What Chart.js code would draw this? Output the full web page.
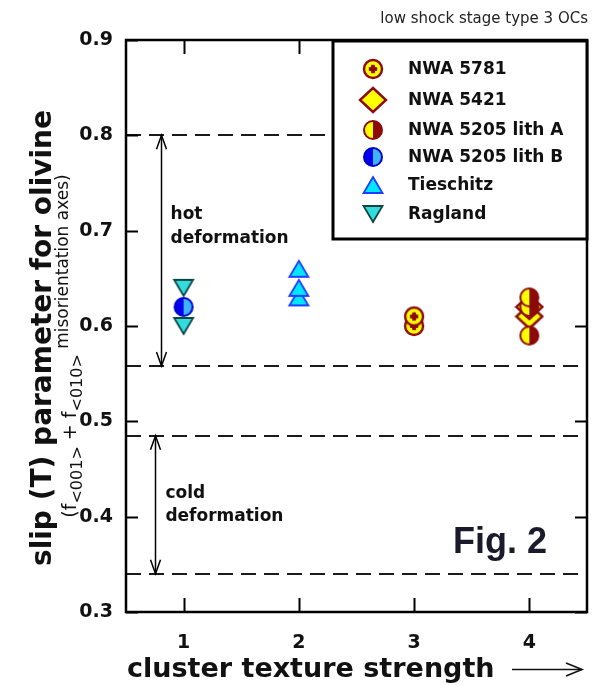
<!DOCTYPE html>
<html>
<head>
<meta charset="utf-8">
<script src="https://cdn.jsdelivr.net/npm/chart.js@4.4.1/dist/chart.umd.min.js"></script>
<style>
  html, body { margin: 0; padding: 0; background: #fff; }
  #wrap { width: 592px; height: 685px; }
</style>
</head>
<body>
<div id="wrap"><canvas id="chart"></canvas></div>
<script>
// ---- data ----
var nwa5781X = [3, 3];
var nwa5781Y = [0.60, 0.61];
var nwa5421X = [4, 4];
var nwa5421Y = [0.61, 0.62];
var lithAX = [4, 4, 4];
var lithAY = [0.59, 0.62, 0.63];
var lithBX = [1];
var lithBY = [0.62];
var tieschitzX = [2, 2, 2];
var tieschitzY = [0.63, 0.64, 0.66];
var raglandX = [1, 1];
var raglandY = [0.64, 0.60];

var seriesLabels = ["NWA 5781", "NWA 5421", "NWA 5205 lith A", "NWA 5205 lith B", "Tieschitz", "Ragland"];
var xTicks = [1, 2, 3, 4];
var yTicks = [0.3, 0.4, 0.5, 0.6, 0.7, 0.8, 0.9];

// deformation bands (y) and where the double arrows sit (x)
var hotRange = [0.8, 0.558];
var coldRange = [0.485, 0.34];
var hotArrowX = 0.8;
var coldArrowX = 0.755;

var DARK_RED = "#8c0a0a";
var YELLOW = "#ffff00";
var FONT = "DejaVu Sans";

// ---- marker images ----
function markerCanvas(w, h, draw) {
  var c = document.createElement("canvas");
  c.width = w;
  c.height = h;
  var g = c.getContext("2d");
  g.translate(w / 2, h / 2);
  draw(g);
  return c;
}

function halfCircle(g, r, left, right, edge) {
  g.beginPath();
  g.arc(0, 0, r, Math.PI / 2, Math.PI * 1.5);
  g.closePath();
  g.fillStyle = left;
  g.fill();
  g.beginPath();
  g.arc(0, 0, r, -Math.PI / 2, Math.PI / 2);
  g.closePath();
  g.fillStyle = right;
  g.fill();
  g.beginPath();
  g.arc(0, 0, r, 0, Math.PI * 2);
  g.lineWidth = 2;
  g.strokeStyle = edge;
  g.stroke();
}

var mk5781 = markerCanvas(24, 24, function (g) {
  g.beginPath();
  g.arc(0, 0, 9, 0, Math.PI * 2);
  g.fillStyle = YELLOW;
  g.fill();
  g.lineWidth = 2.4;
  g.strokeStyle = DARK_RED;
  g.stroke();
  g.fillStyle = DARK_RED;
  g.fillRect(-1.8, -4.2, 3.6, 8.4);
  g.fillRect(-4.2, -1.8, 8.4, 3.6);
  g.beginPath();
  g.arc(0, 0, 3, 0, Math.PI * 2);
  g.fill();
});

var mk5421 = markerCanvas(30, 30, function (g) {
  g.beginPath();
  g.moveTo(0, -12);
  g.lineTo(13, 0);
  g.lineTo(0, 12);
  g.lineTo(-13, 0);
  g.closePath();
  g.fillStyle = YELLOW;
  g.fill();
  g.lineWidth = 2.4;
  g.strokeStyle = DARK_RED;
  g.stroke();
});

var mkLithA = markerCanvas(24, 24, function (g) {
  halfCircle(g, 9, YELLOW, DARK_RED, DARK_RED);
});

var mkLithB = markerCanvas(24, 24, function (g) {
  halfCircle(g, 9, "#0000ee", "#3cb4ff", "#0000cc");
});

var mkTieschitz = markerCanvas(24, 22, function (g) {
  g.beginPath();
  g.moveTo(0, -8);
  g.lineTo(9.5, 8);
  g.lineTo(-9.5, 8);
  g.closePath();
  g.fillStyle = "#00e6ff";
  g.fill();
  g.lineWidth = 1.8;
  g.strokeStyle = "#1f3cff";
  g.stroke();
});

var mkRagland = markerCanvas(24, 22, function (g) {
  g.beginPath();
  g.moveTo(0, 8);
  g.lineTo(9.5, -8);
  g.lineTo(-9.5, -8);
  g.closePath();
  g.fillStyle = "#33dcdc";
  g.fill();
  g.lineWidth = 1.8;
  g.strokeStyle = "#0d4545";
  g.stroke();
});

function pts(xs, ys) {
  return xs.map(function (x, i) {
    return { x: x, y: ys[i] };
  });
}

var markers = [mk5781, mk5421, mkLithA, mkLithB, mkTieschitz, mkRagland];
var pointSets = [
  pts(nwa5781X, nwa5781Y),
  pts(nwa5421X, nwa5421Y),
  pts(lithAX, lithAY),
  pts(lithBX, lithBY),
  pts(tieschitzX, tieschitzY),
  pts(raglandX, raglandY),
];
// lower order is drawn on top: circles of lith A sit over the diamonds
var drawOrder = [3, 6, 2, 4, 5, 1];

var datasets = seriesLabels.map(function (label, i) {
  return {
    label: label,
    data: pointSets[i],
    pointStyle: markers[i],
    showLine: false,
    order: drawOrder[i],
  };
});

// ---- drawing helpers ----
function arrowHead(ctx, x, y, dir, len, half) {
  ctx.beginPath();
  ctx.moveTo(x - half, y - dir * len);
  ctx.lineTo(x, y);
  ctx.lineTo(x + half, y - dir * len);
  ctx.stroke();
}

var decorations = {
  id: "decorations",
  beforeDatasetsDraw: function (chart) {
    var ctx = chart.ctx;
    var xs = chart.scales.x;
    var ys = chart.scales.y;
    var a = chart.chartArea;
    ctx.save();

    // dashed band limits
    ctx.strokeStyle = "#1a1a1a";
    ctx.lineWidth = 1.8;
    ctx.setLineDash([15, 8]);
    hotRange.concat(coldRange).forEach(function (v) {
      var y = Math.round(ys.getPixelForValue(v));
      ctx.beginPath();
      ctx.moveTo(a.left, y);
      ctx.lineTo(a.right, y);
      ctx.stroke();
    });
    ctx.setLineDash([]);

    // double arrows
    ctx.strokeStyle = "#000";
    ctx.lineWidth = 1.5;
    [[hotArrowX, hotRange], [coldArrowX, coldRange]].forEach(function (arr) {
      var x = Math.round(xs.getPixelForValue(arr[0])) + 0.5;
      var y1 = ys.getPixelForValue(arr[1][0]);
      var y2 = ys.getPixelForValue(arr[1][1]);
      ctx.beginPath();
      ctx.moveTo(x, y1);
      ctx.lineTo(x, y2);
      ctx.stroke();
      arrowHead(ctx, x, y1, -1, 14, 5);
      arrowHead(ctx, x, y2, 1, 14, 5);
    });

    // band labels
    ctx.fillStyle = "#111";
    ctx.font = "bold 17px '" + FONT + "'";
    ctx.textBaseline = "alphabetic";
    ctx.textAlign = "left";
    var hx = xs.getPixelForValue(hotArrowX) + 10;
    var hy = ys.getPixelForValue(0.7);
    ctx.fillText("hot", hx, hy - 12);
    ctx.fillText("deformation", hx, hy + 12);
    var cx = xs.getPixelForValue(coldArrowX) + 10;
    var cy = ys.getPixelForValue(0.407);
    ctx.fillText("cold", cx, cy - 12);
    ctx.fillText("deformation", cx, cy + 11);

    ctx.restore();
  },
  afterDraw: function (chart) {
    var ctx = chart.ctx;
    var xs = chart.scales.x;
    var ys = chart.scales.y;
    var a = chart.chartArea;
    ctx.save();

    // frame
    ctx.strokeStyle = "#000";
    ctx.lineWidth = 2.5;
    ctx.strokeRect(a.left, a.top, a.right - a.left, a.bottom - a.top);

    // inward ticks
    ctx.lineWidth = 2;
    xTicks.forEach(function (v) {
      var x = Math.round(xs.getPixelForValue(v)) + 0.5;
      ctx.beginPath();
      ctx.moveTo(x, a.bottom);
      ctx.lineTo(x, a.bottom - 14);
      ctx.moveTo(x, a.top);
      ctx.lineTo(x, a.top + 14);
      ctx.stroke();
    });
    yTicks.forEach(function (v) {
      var y = Math.round(ys.getPixelForValue(v)) + 0.5;
      ctx.beginPath();
      ctx.moveTo(a.left, y);
      ctx.lineTo(a.left + 12, y);
      ctx.moveTo(a.right, y);
      ctx.lineTo(a.right - 12, y);
      ctx.stroke();
    });

    // legend box
    var lx = 333, ly = a.top + 1, lw = a.right - 333, lh = 198;
    ctx.fillStyle = "#fff";
    ctx.fillRect(lx, ly, lw, lh);
    ctx.lineWidth = 3;
    ctx.strokeRect(lx, ly, lw, lh);
    var rows = [69, 100, 130, 157, 185, 214];
    ctx.font = "bold 17px '" + FONT + "'";
    ctx.fillStyle = "#111";
    ctx.textBaseline = "middle";
    ctx.textAlign = "left";
    chart.data.datasets.forEach(function (ds, i) {
      var img = ds.pointStyle;
      ctx.drawImage(img, 373 - img.width / 2, rows[i] - img.height / 2);
      ctx.fillText(ds.label, 408, rows[i] + 1);
    });

    // Fig. 2
    ctx.font = "bold 36px 'Liberation Sans'";
    ctx.textBaseline = "alphabetic";
    ctx.fillStyle = "#1a1a2a";
    ctx.fillText("Fig. 2", 453, 553);

    // top note
    ctx.font = "15px '" + FONT + "'";
    ctx.fillStyle = "#222";
    ctx.textAlign = "right";
    ctx.fillText("low shock stage type 3 OCs", 588, 23);

    // x title with arrow
    ctx.font = "bold 27px '" + FONT + "'";
    ctx.fillStyle = "#111";
    ctx.textAlign = "left";
    ctx.fillText("cluster texture strength", 127, 677);
    ctx.strokeStyle = "#111";
    ctx.lineWidth = 1.6;
    ctx.beginPath();
    ctx.moveTo(512, 669.5);
    ctx.lineTo(582, 669.5);
    ctx.stroke();
    ctx.beginPath();
    ctx.moveTo(566, 663);
    ctx.lineTo(582, 669.5);
    ctx.lineTo(566, 676);
    ctx.stroke();

    // y title
    ctx.save();
    ctx.translate(51, 338);
    ctx.rotate(-Math.PI / 2);
    ctx.font = "bold 28px '" + FONT + "'";
    ctx.textAlign = "center";
    ctx.fillText("slip (T) parameter for olivine", 0, 0);
    ctx.restore();

    // y subtitle with sub/superscripts
    var parts = [
      ["(f", 19, 0],
      ["<001>", 16, 6],
      [" + f", 19, 0],
      ["<010>", 16, 6],
      [" misorientation axes)", 17, -8],
    ];
    ctx.save();
    ctx.translate(76, 346);
    ctx.rotate(-Math.PI / 2);
    ctx.textAlign = "left";
    var total = 0;
    parts.forEach(function (p) {
      ctx.font = p[1] + "px '" + FONT + "'";
      total += ctx.measureText(p[0]).width;
    });
    var px = -total / 2;
    parts.forEach(function (p) {
      ctx.font = p[1] + "px '" + FONT + "'";
      ctx.fillText(p[0], px, p[2]);
      px += ctx.measureText(p[0]).width;
    });
    ctx.restore();

    ctx.restore();
  },
};

var ctx = document.getElementById("chart").getContext("2d");
var chart = new Chart(ctx, {
  type: "scatter",
  data: { datasets: datasets },
  options: {
    responsive: true,
    maintainAspectRatio: false,
    animation: false,
    layout: { padding: { top: 40, right: 5, left: 0, bottom: 0 } },
    plugins: {
      legend: { display: false },
      tooltip: { enabled: false },
    },
    scales: {
      x: {
        type: "linear",
        min: 0.5,
        max: 4.5,
        afterBuildTicks: function (s) {
          s.ticks = xTicks.map(function (v) {
            return { value: v };
          });
        },
        afterFit: function (s) {
          s.height = 73;
        },
        grid: { display: false, drawTicks: false },
        border: { display: false },
        ticks: {
          padding: 20,
          color: "#111",
          font: { family: FONT, weight: "bold", size: 19 },
          callback: function (v) {
            return String(v);
          },
        },
      },
      y: {
        min: 0.3,
        max: 0.9,
        afterBuildTicks: function (s) {
          s.ticks = yTicks.map(function (v) {
            return { value: v };
          });
        },
        afterFit: function (s) {
          s.width = 126;
        },
        grid: { display: false, drawTicks: false },
        border: { display: false },
        ticks: {
          padding: 13,
          color: "#111",
          font: { family: FONT, weight: "bold", size: 19 },
          callback: function (v) {
            return v.toFixed(1);
          },
        },
      },
    },
  },
  plugins: [decorations],
});
</script>
</body>
</html>
